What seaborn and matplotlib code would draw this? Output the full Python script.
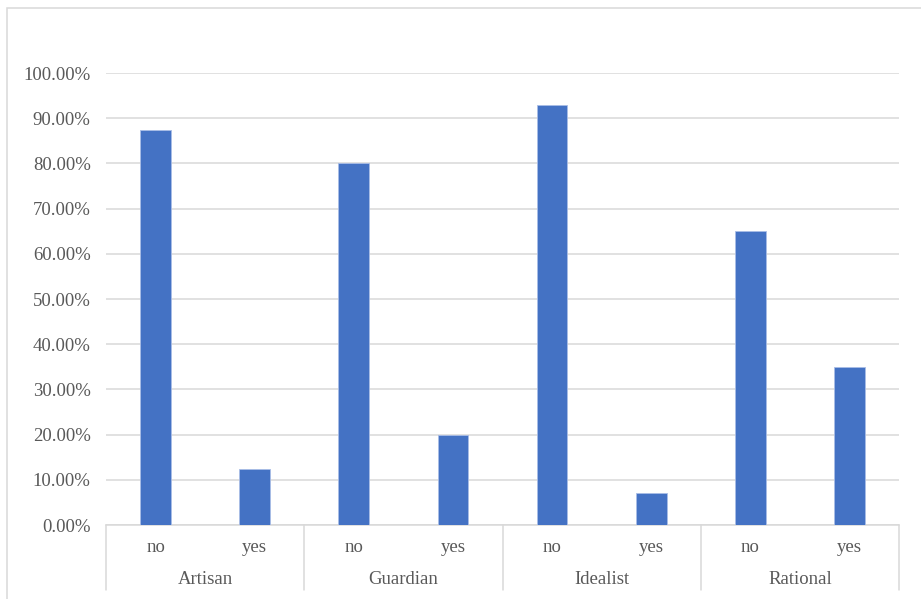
import matplotlib
matplotlib.use("Agg")
import matplotlib.pyplot as plt
from matplotlib.patches import Rectangle
from matplotlib.lines import Line2D
from matplotlib.ticker import PercentFormatter
import seaborn as sns
import pandas as pd

# Share of each answer within every temperament group
groups = ["Artisan", "Guardian", "Idealist", "Rational"]
answers = ["no", "yes"]
share_no = [0.875, 0.80, 0.9286, 0.65]
share_yes = [0.125, 0.20, 0.0714, 0.35]

rows = []
for g, n, y in zip(groups, share_no, share_yes):
    rows.append({"slot": f"{g}|no", "group": g, "answer": "no", "share": n})
    rows.append({"slot": f"{g}|yes", "group": g, "answer": "yes", "share": y})
df = pd.DataFrame(rows)

sns.set_theme(style="white")
plt.rcParams["font.family"] = ["Liberation Serif", "DejaVu Serif"]

W, H = 921, 599
fig = plt.figure(figsize=(W / 100, H / 100), dpi=100)
ax = fig.add_axes([106 / W, 1 - 525 / H, (899 - 106) / W, (525 - 73) / H])

text_color = "#595959"
grid_color = "#d9d9d9"
bar_color = "#4472c4"

sns.barplot(data=df, x="slot", y="share", color=bar_color, width=0.31,
            saturation=1, ax=ax, edgecolor="#a9bde6", linewidth=0.6, zorder=3)

ax.set_xlim(-0.5, len(df) - 0.5)
ax.set_ylim(0, 1.0)
ax.set_yticks([i / 10 for i in range(11)])
ax.yaxis.set_major_formatter(PercentFormatter(xmax=1, decimals=2))
ax.tick_params(axis="y", length=0, pad=11, labelsize=13.5, labelcolor=text_color)
ax.set_xticks([])
ax.set_xlabel("")
ax.set_ylabel("")
ax.grid(axis="y", color=grid_color, linewidth=1.1, zorder=0)
for s in ["top", "right", "left"]:
    ax.spines[s].set_visible(False)
ax.spines["bottom"].set_color(grid_color)
ax.spines["bottom"].set_linewidth(1.1)

# Two-level category axis: answers on the first row, groups below
trans = ax.get_xaxis_transform()
px = 1 / (525 - 73)
for i, row in df.iterrows():
    ax.text(i, -(548 - 525) * px, row["answer"], transform=trans, ha="center",
            va="center", fontsize=13.5, color=text_color, clip_on=False)
for gi, g in enumerate(groups):
    ax.text(2 * gi + 0.5, -(580 - 525) * px, g, transform=trans, ha="center",
            va="center", fontsize=13.5, color=text_color, clip_on=False)
for k in range(len(groups) + 1):
    ax.add_line(Line2D([2 * k - 0.5, 2 * k - 0.5], [0, -(590 - 525) * px],
                       transform=trans, color=grid_color, linewidth=1.1,
                       clip_on=False))

# Chart frame
fig.patches.append(Rectangle((7 / W, -0.1), 1.2, 1 - 8 / H + 0.1,
                             transform=fig.transFigure, fill=False,
                             edgecolor="#d9d9d9", linewidth=1.1))

fig.savefig("out.png", dpi=100, facecolor="white")
